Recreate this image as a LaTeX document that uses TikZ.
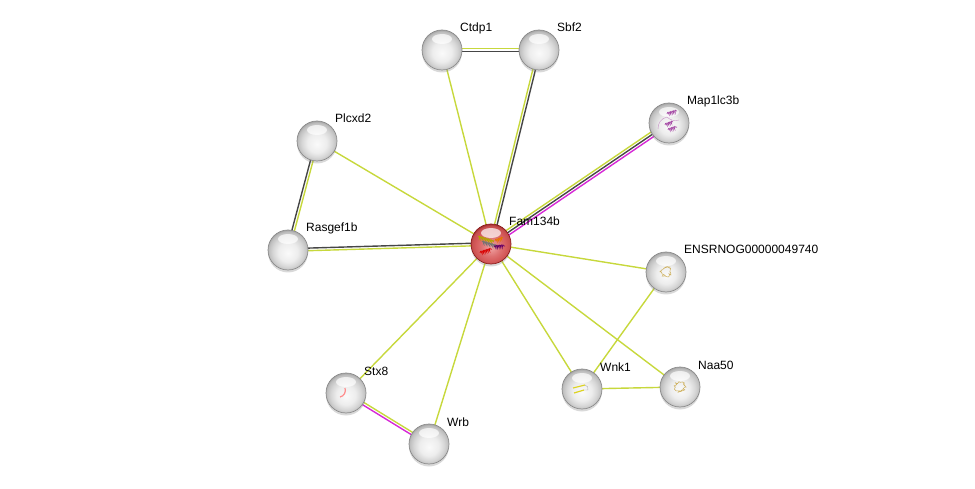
\documentclass[tikz,border=0pt]{standalone}
\usepackage{fontspec}
\setmainfont{Liberation Sans}
\usetikzlibrary{calc,shadows,decorations.pathmorphing}
\pgfdeclarelayer{background}
\pgfsetlayers{background,main}

\definecolor{txtmine}{RGB}{199,216,60}
\definecolor{coexp}{RGB}{70,70,70}
\definecolor{exper}{RGB}{214,40,214}
\definecolor{redlight}{RGB}{240,165,165}
\definecolor{redmid}{RGB}{214,92,92}
\definecolor{reddark}{RGB}{140,28,28}
\definecolor{tanlig}{RGB}{205,175,90}

% radial shadings for the protein balls, centre pushed down (ball edge = 25bp)
\pgfdeclareradialshading{greyball}{\pgfpoint{0bp}{-4bp}}{%
  color(0bp)=(black!2); color(12bp)=(black!7); color(19bp)=(black!16);
  color(24bp)=(black!25); color(28bp)=(black!42); color(40bp)=(black!42)}
\pgfdeclareradialshading{redball}{\pgfpoint{0bp}{-4bp}}{%
  color(0bp)=(redlight); color(12bp)=(redmid!70!redlight); color(19bp)=(redmid);
  color(24bp)=(redmid!80!reddark); color(28bp)=(reddark); color(40bp)=(reddark)}

\tikzset{
  protein/.style={circle, minimum size=40pt, inner sep=0pt,
    shading=greyball, draw=black!45, line width=0.7pt,
    drop shadow={shadow xshift=0pt, shadow yshift=-2.5pt, opacity=.3},
    path picture={\fill[white, opacity=.7]
      ([yshift=11pt]path picture bounding box.center) ellipse (10pt and 5pt);}},
  query/.style={protein, shading=redball, draw=reddark},
  lbl/.style={anchor=base west, inner sep=0pt, font=\fontsize{12}{14}\selectfont},
  edge/.style={line width=1.4pt},
  helix/.style={line width=.7pt, decorate,
    decoration={coil, aspect=.5, segment length=1.6pt, amplitude=1.3pt}},
  scribble/.style={line width=.5pt, decorate,
    decoration={random steps, segment length=1.2pt, amplitude=1.6pt}},
}

% two parallel evidence lines, first colour on the left of a->b
\newcommand\twoline[4]{%
  \draw[edge, #3] ($(#1.center)!1.3pt!90:(#2.center)$) -- ($(#2.center)!1.3pt!-90:(#1.center)$);
  \draw[edge, #4] ($(#1.center)!1.3pt!-90:(#2.center)$) -- ($(#2.center)!1.3pt!90:(#1.center)$);}
% three parallel evidence lines
\newcommand\threeline[5]{%
  \draw[edge, #3] ($(#1.center)!2.6pt!90:(#2.center)$) -- ($(#2.center)!2.6pt!-90:(#1.center)$);
  \draw[edge, #4] (#1.center) -- (#2.center);
  \draw[edge, #5] ($(#1.center)!2.6pt!-90:(#2.center)$) -- ($(#2.center)!2.6pt!90:(#1.center)$);}

\begin{document}
\begin{tikzpicture}[x=1pt, y=-1pt]
    \useasboundingbox (0,0) rectangle (975,489);

    % proteins (pixel positions)
    \node[query]   (fam)  at (491,244) {};
    \node[protein] (ctdp) at (442,50)  {};
    \node[protein] (sbf)  at (539,50)  {};
    \node[protein] (map)  at (669,123) {};
    \node[protein] (plc)  at (317,141) {};
    \node[protein] (ras)  at (288,250) {};
    \node[protein] (ens)  at (666,272) {};
    \node[protein] (stx)  at (346,393) {};
    \node[protein] (wrb)  at (429,444) {};
    \node[protein] (wnk)  at (582,389) {};
    \node[protein] (naa)  at (680,387) {};

    % little structure sketches inside some balls
    \draw[helix, olive!70!yellow]   ($(fam)+(-13,-7)$) -- ($(fam)+(3,-2)$);
    \draw[helix, orange!90!black]   ($(fam)+(4,-3)$)   -- ($(fam)+(12,-6)$);
    \draw[helix, black!55]          ($(fam)+(-9,-2)$)  -- ($(fam)+(8,3)$);
    \draw[helix, violet!80!black]   ($(fam)+(3,3)$)    -- ($(fam)+(14,2)$);
    \draw[helix, red!85!black]      ($(fam)+(-11,9)$)  -- ($(fam)+(1,5)$);
    \draw[helix, violet!70]         ($(map)+(-2,-9)$)  -- ($(map)+(8,-12)$);
    \draw[helix, violet!70]         ($(map)+(-4,2)$)   -- ($(map)+(4,-1)$);
    \draw[helix, violet!70]         ($(map)+(-1,7)$)   -- ($(map)+(8,4)$);
    \draw[violet!45, line width=.4pt] ($(map)+(-11,6)$) to[bend left=40] ($(map)+(-2,-6)$)
        to[bend right=30] ($(map)+(10,-3)$);
    \draw[scribble, tanlig] ($(ens)$) circle (4.5pt);
    \draw[scribble, tanlig] ($(naa)$) circle (4.5pt);
    \draw[yellow!85!black, line width=1.2pt] ($(wnk)+(-9,-1)$) -- ($(wnk)+(3,-4)$);
    \draw[yellow!85!black, line width=1.2pt] ($(wnk)+(-8,4)$)  -- ($(wnk)+(2,1)$);
    \draw[black!30, line width=.4pt] ($(wnk)+(3,-4)$) to[bend left=50] ($(wnk)+(6,1)$) -- ($(wnk)+(2,1)$);
    \draw[red!45!white, line width=1.2pt] ($(stx)+(-1,-5)$) to[bend left=50] ($(stx)+(-6,4)$);

    % labels sit up and to the right of each ball
    \node[lbl] (fam-l)  at ($(fam)+(18,-18)$)  {Fam134b};
    \node[lbl] (ctdp-l) at ($(ctdp)+(18,-18)$) {Ctdp1};
    \node[lbl] (sbf-l)  at ($(sbf)+(18,-18)$)  {Sbf2};
    \node[lbl] (map-l)  at ($(map)+(18,-18)$)  {Map1lc3b};
    \node[lbl] (plc-l)  at ($(plc)+(18,-18)$)  {Plcxd2};
    \node[lbl] (ras-l)  at ($(ras)+(18,-18)$)  {Rasgef1b};
    \node[lbl] (ens-l)  at ($(ens)+(18,-18)$)  {ENSRNOG00000049740};
    \node[lbl] (stx-l)  at ($(stx)+(18,-18)$)  {Stx8};
    \node[lbl] (wrb-l)  at ($(wrb)+(18,-18)$)  {Wrb};
    \node[lbl] (wnk-l)  at ($(wnk)+(18,-18)$)  {Wnk1};
    \node[lbl] (naa-l)  at ($(naa)+(18,-18)$)  {Naa50};

    % interactions, behind the balls
    \begin{pgfonlayer}{background}
        \twoline{ctdp}{sbf}{txtmine}{coexp}
        \twoline{fam}{sbf}{txtmine}{coexp}
        \threeline{fam}{map}{txtmine}{coexp}{exper}
        \twoline{ras}{plc}{coexp}{txtmine}
        \twoline{ras}{fam}{coexp}{txtmine}
        \twoline{stx}{wrb}{txtmine}{exper}
        \foreach \a/\b in {fam/ctdp, fam/plc, fam/ens, fam/stx, fam/wrb,
                           fam/wnk, fam/naa, ens/wnk, wnk/naa}
            \draw[edge, txtmine] (\a.center) -- (\b.center);
    \end{pgfonlayer}
\end{tikzpicture}
\end{document}
